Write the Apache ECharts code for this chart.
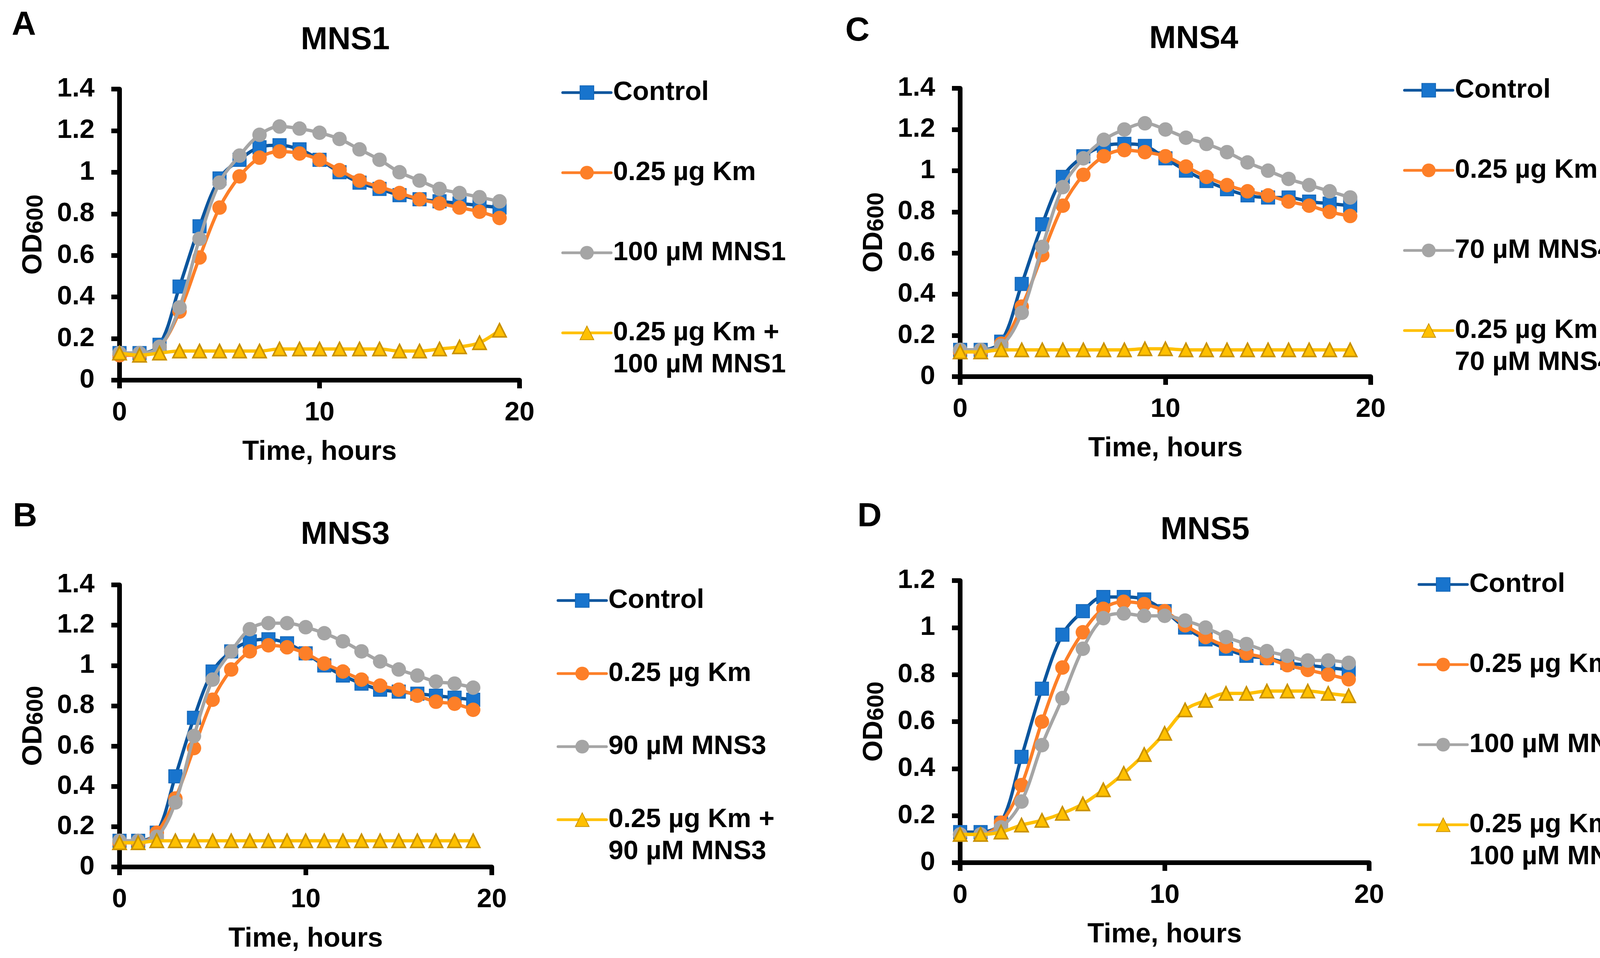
<!DOCTYPE html>
<html>
<head>
<meta charset="utf-8">
<script src="https://cdn.jsdelivr.net/npm/echarts@6/dist/echarts.min.js"></script>
<style>
  html, body { margin: 0; padding: 0; background: #fff; }
  #chart { width: 4236px; height: 2452px; }
</style>
</head>
<body>
<div id="chart"></div>
<script>
// time points (hours)
let hours = [0, 1, 2, 3, 4, 5, 6, 7, 8, 9, 10, 11, 12, 13, 14, 15, 16, 17, 18, 19];

// A - MNS1
let ctrlA  = [0.13, 0.13, 0.17, 0.45, 0.74, 0.97, 1.06, 1.12, 1.13, 1.11, 1.06, 1.00, 0.95, 0.92, 0.89, 0.87, 0.86, 0.85, 0.84, 0.83];
let kmA    = [0.12, 0.12, 0.16, 0.33, 0.59, 0.83, 0.98, 1.07, 1.10, 1.09, 1.06, 1.01, 0.96, 0.93, 0.90, 0.87, 0.85, 0.83, 0.81, 0.78];
let mnsA   = [0.13, 0.13, 0.16, 0.35, 0.68, 0.95, 1.08, 1.18, 1.22, 1.21, 1.19, 1.16, 1.11, 1.06, 1.00, 0.96, 0.92, 0.90, 0.88, 0.86];
let comboA = [0.13, 0.12, 0.13, 0.14, 0.14, 0.14, 0.14, 0.14, 0.15, 0.15, 0.15, 0.15, 0.15, 0.15, 0.14, 0.14, 0.15, 0.16, 0.18, 0.24];

// B - MNS3
let ctrlB  = [0.13, 0.13, 0.17, 0.45, 0.74, 0.97, 1.07, 1.12, 1.13, 1.11, 1.06, 1.00, 0.95, 0.91, 0.88, 0.87, 0.86, 0.85, 0.84, 0.83];
let kmB    = [0.12, 0.12, 0.17, 0.34, 0.59, 0.83, 0.98, 1.07, 1.10, 1.09, 1.06, 1.01, 0.97, 0.93, 0.90, 0.88, 0.85, 0.82, 0.81, 0.78];
let mnsB   = [0.13, 0.13, 0.15, 0.32, 0.65, 0.93, 1.07, 1.18, 1.21, 1.21, 1.19, 1.16, 1.12, 1.07, 1.02, 0.98, 0.95, 0.92, 0.91, 0.89];
let comboB = [0.12, 0.12, 0.13, 0.13, 0.13, 0.13, 0.13, 0.13, 0.13, 0.13, 0.13, 0.13, 0.13, 0.13, 0.13, 0.13, 0.13, 0.13, 0.13, 0.13];

// C - MNS4
let ctrlC  = [0.13, 0.13, 0.17, 0.45, 0.74, 0.97, 1.07, 1.12, 1.13, 1.12, 1.06, 1.00, 0.95, 0.91, 0.88, 0.87, 0.87, 0.85, 0.84, 0.83];
let kmC    = [0.12, 0.12, 0.16, 0.34, 0.59, 0.83, 0.98, 1.07, 1.10, 1.09, 1.07, 1.02, 0.97, 0.93, 0.90, 0.88, 0.85, 0.83, 0.80, 0.78];
let mnsC   = [0.13, 0.13, 0.15, 0.31, 0.63, 0.92, 1.06, 1.15, 1.20, 1.23, 1.20, 1.16, 1.13, 1.09, 1.04, 1.00, 0.96, 0.93, 0.90, 0.87];
let comboC = [0.12, 0.12, 0.13, 0.13, 0.13, 0.13, 0.13, 0.13, 0.13, 0.135, 0.135, 0.13, 0.13, 0.13, 0.13, 0.13, 0.13, 0.13, 0.13, 0.13];

// D - MNS5
let ctrlD  = [0.13, 0.13, 0.17, 0.45, 0.74, 0.97, 1.07, 1.13, 1.13, 1.12, 1.07, 1.00, 0.95, 0.91, 0.88, 0.87, 0.85, 0.84, 0.83, 0.82];
let kmD    = [0.12, 0.12, 0.17, 0.33, 0.60, 0.83, 0.98, 1.08, 1.11, 1.10, 1.07, 1.01, 0.96, 0.92, 0.89, 0.87, 0.84, 0.82, 0.80, 0.78];
let mnsD   = [0.12, 0.12, 0.15, 0.26, 0.50, 0.70, 0.91, 1.04, 1.06, 1.05, 1.05, 1.03, 1.00, 0.96, 0.93, 0.90, 0.88, 0.86, 0.86, 0.85];
let comboD = [0.12, 0.12, 0.13, 0.16, 0.18, 0.21, 0.25, 0.31, 0.38, 0.46, 0.55, 0.65, 0.69, 0.72, 0.72, 0.73, 0.73, 0.73, 0.72, 0.71];

let panelTitles = ['MNS1', 'MNS3', 'MNS4', 'MNS5'];
let panelLetters = ['A', 'B', 'C', 'D'];
let mnsNames = ['100 µM MNS1', '90 µM MNS3', '70 µM MNS4', '100 µM MNS5'];
let comboNames = ['0.25 µg Km +\n100 µM MNS1', '0.25 µg Km +\n90 µM MNS3', '0.25 µg Km +\n70 µM MNS4', '0.25 µg Km +\n100 µM MNS5'];
let yMax = [1.4, 1.4, 1.4, 1.2];
let panelData = [
  [ctrlA, kmA, mnsA, comboA],
  [ctrlB, kmB, mnsB, comboB],
  [ctrlC, kmC, mnsC, comboC],
  [ctrlD, kmD, mnsD, comboD]
];

const FONT = '"Liberation Sans", Arial, sans-serif';

// layout of each panel (pixels)
let layout = [
  {grid: {left: 306, top: 228, width: 1024, height: 745}, title: [884, 103], letter: [61, 65],  legend: {left: 1437, top: 114,  gap: -41}},
  {grid: {left: 306, top: 1497, width: 953, height: 722}, title: [884, 1369], letter: [64, 1323], legend: {left: 1425, top: 1414, gap: -59}},
  {grid: {left: 2458, top: 226, width: 1051, height: 738}, title: [3056, 100], letter: [2195, 80], legend: {left: 3592, top: 108, gap: -41}},
  {grid: {left: 2458, top: 1486, width: 1047, height: 722}, title: [3085, 1357], letter: [2226, 1323], legend: {left: 3629, top: 1373, gap: -41}}
];

// series styles: Control, Km, MNS, Km + MNS
let styles = [
  {line: '#0b559d', fill: '#1874cd', border: '#1366b7', bw: 2, symbol: 'rect', size: 34},
  {line: '#fd7f28', fill: '#fd7f28', border: '#fd7f28', bw: 0, symbol: 'circle', size: 37},
  {line: '#a5a5a5', fill: '#a5a5a5', border: '#a5a5a5', bw: 0, symbol: 'circle', size: 37},
  {line: '#ffc000', fill: '#ffc000', border: '#c99100', bw: 4, symbol: 'triangle', size: 34}
];

let grids = [], xAxes = [], yAxes = [], series = [], legends = [], graphics = [];

layout.forEach(function (p, gi) {
  grids.push(Object.assign({containLabel: false}, p.grid));

  xAxes.push({
    gridIndex: gi, type: 'value', min: 0, max: 20, interval: 10,
    axisLine: {show: true, onZero: false, lineStyle: {color: '#000', width: 12}},
    axisTick: {show: true, length: 21, lineStyle: {color: '#000', width: 12}},
    axisLabel: {fontSize: 69, fontWeight: 'bold', color: '#000', fontFamily: FONT, margin: 49},
    splitLine: {show: false},
    name: 'Time, hours', nameLocation: 'middle', nameGap: 150,
    nameTextStyle: {fontSize: 70, fontWeight: 'bold', color: '#000', fontFamily: FONT}
  });

  yAxes.push({
    gridIndex: gi, type: 'value', min: 0, max: yMax[gi], interval: 0.2,
    axisLine: {show: true, lineStyle: {color: '#000', width: 12}},
    axisTick: {show: true, length: 21, lineStyle: {color: '#000', width: 12}},
    axisLabel: {fontSize: 69, fontWeight: 'bold', color: '#000', fontFamily: FONT, margin: 64},
    splitLine: {show: false},
    name: '{a|OD}{b|600}', nameLocation: 'middle', nameGap: 184, nameRotate: 90,
    nameTextStyle: {
      color: '#000',
      rich: {
        a: {fontSize: 70, fontWeight: 'bold', color: '#000', fontFamily: FONT},
        b: {fontSize: 60, fontWeight: 'bold', color: '#000', fontFamily: FONT, verticalAlign: 'bottom'}
      }
    }
  });

  let names = ['Control', '0.25 µg Km', mnsNames[gi], comboNames[gi]];
  panelData[gi].forEach(function (vals, si) {
    let st = styles[si];
    series.push({
      type: 'line', name: names[si], xAxisIndex: gi, yAxisIndex: gi,
      data: hours.map(function (h, i) { return [h, vals[i]]; }),
      smooth: 0.35,
      symbol: st.symbol, symbolSize: st.size,
      lineStyle: {color: st.line, width: 8.5, cap: 'round'},
      itemStyle: {color: st.fill, borderColor: st.border, borderWidth: st.bw, opacity: 1},
      emphasis: {disabled: true},
      z: 2 + si
    });
  });

  legends.push({
    orient: 'vertical', left: p.legend.left, top: p.legend.top, padding: 0,
    itemGap: p.legend.gap, itemWidth: 124, itemHeight: 44,
    selectedMode: false,
    data: names,
    lineStyle: {width: 7, cap: 'round'},
    formatter: function (n) { return '\n' + n + (n.indexOf('\n') >= 0 ? '' : '\n'); },
    textStyle: {fontSize: 69, fontWeight: 'bold', color: '#000', fontFamily: FONT, lineHeight: 82}
  });

  graphics.push({
    type: 'text', x: p.title[0], y: p.title[1],
    style: {text: panelTitles[gi], fontSize: 82, fontWeight: 'bold', fontFamily: FONT, fill: '#000', align: 'center', verticalAlign: 'middle'}
  });
  graphics.push({
    type: 'text', x: p.letter[0], y: p.letter[1],
    style: {text: panelLetters[gi], fontSize: 86, fontWeight: 'bold', fontFamily: FONT, fill: '#000', align: 'center', verticalAlign: 'middle'}
  });
});

let option = {
  animation: false,
  backgroundColor: '#fff',
  grid: grids,
  xAxis: xAxes,
  yAxis: yAxes,
  legend: legends,
  series: series,
  graphic: graphics
};

var chart = echarts.init(document.getElementById('chart'), null, {renderer: 'canvas'});
chart.setOption(option);
</script>
</body>
</html>
